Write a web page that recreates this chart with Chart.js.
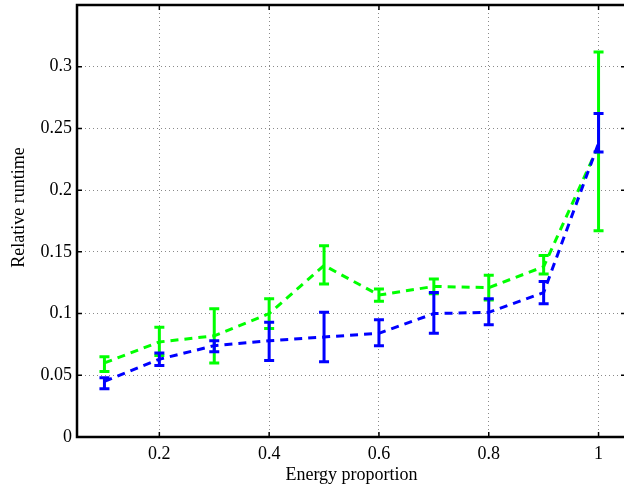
<!DOCTYPE html>
<html>
<head>
<meta charset="utf-8">
<script src="https://cdn.jsdelivr.net/npm/chart.js"></script>
<style>
  body { margin: 0; background: #fff; }
  #wrap { width: 624px; height: 488px; overflow: hidden; }
</style>
</head>
<body>
<div id="wrap"><canvas id="chart" width="640" height="488"></canvas></div>
<script>
// datos
var energy = [0.1, 0.2, 0.3, 0.4, 0.5, 0.6, 0.7, 0.8, 0.9, 1.0];

var blueMean = [0.045, 0.063, 0.074, 0.078, 0.081, 0.084, 0.100, 0.101, 0.117, 0.238];
var blueLow  = [0.039, 0.058, 0.069, 0.062, 0.061, 0.074, 0.084, 0.091, 0.108, 0.231];
var blueHigh = [0.048, 0.068, 0.078, 0.093, 0.101, 0.095, 0.117, 0.112, 0.126, 0.262];

var greenMean = [0.060, 0.077, 0.082, 0.100, 0.139, 0.115, 0.122, 0.121, 0.138, 0.236];
var greenLow  = [0.053, 0.066, 0.060, 0.088, 0.124, 0.110, 0.116, 0.111, 0.132, 0.167];
var greenHigh = [0.065, 0.089, 0.104, 0.112, 0.155, 0.120, 0.128, 0.131, 0.147, 0.312];

var xTicks = [0.2, 0.4, 0.6, 0.8, 1];
var yTicks = [0, 0.05, 0.1, 0.15, 0.2, 0.25, 0.3];

var font = { family: 'Liberation Serif', size: 18 };

function points(ys) {
    return energy.map(function(x, i) { return { x: x, y: ys[i] }; });
}

// barras de error, dibujadas despues de cada serie
var errorBars = {
    id: 'errorBars',
    afterDatasetDraw: function(chart, args) {
        var ds = chart.data.datasets[args.index];
        var ctx = chart.ctx, xs = chart.scales.x, ys = chart.scales.y;
        ctx.save();
        ctx.strokeStyle = ds.borderColor;
        ctx.lineWidth = 3;
        for (var i = 0; i < energy.length; i++) {
            var px = xs.getPixelForValue(energy[i]);
            var lo = ys.getPixelForValue(ds.errLow[i]);
            var hi = ys.getPixelForValue(ds.errHigh[i]);
            ctx.beginPath();
            ctx.moveTo(px, lo); ctx.lineTo(px, hi);
            ctx.moveTo(px - 5, lo); ctx.lineTo(px + 5, lo);
            ctx.moveTo(px - 5, hi); ctx.lineTo(px + 5, hi);
            ctx.stroke();
        }
        ctx.restore();
    }
};

// marco negro (sin lado derecho, queda fuera) y marcas hacia dentro
var frame = {
    id: 'frame',
    afterDraw: function(chart) {
        var ctx = chart.ctx, a = chart.chartArea;
        var xs = chart.scales.x, ys = chart.scales.y;
        ctx.save();
        ctx.strokeStyle = '#000';
        ctx.lineWidth = 1.5;
        xs.ticks.forEach(function(t) {
            var px = xs.getPixelForValue(t.value);
            ctx.beginPath();
            ctx.moveTo(px, a.bottom); ctx.lineTo(px, a.bottom - 5);
            ctx.moveTo(px, a.top); ctx.lineTo(px, a.top + 5);
            ctx.stroke();
        });
        ys.ticks.forEach(function(t) {
            var py = ys.getPixelForValue(t.value);
            ctx.beginPath();
            ctx.moveTo(a.left, py); ctx.lineTo(a.left + 5, py);
            ctx.moveTo(a.right, py); ctx.lineTo(a.right - 5, py);
            ctx.stroke();
        });
        ctx.lineWidth = 2.5;
        ctx.beginPath();
        ctx.moveTo(a.right + 10, a.top);
        ctx.lineTo(a.left, a.top);
        ctx.lineTo(a.left, a.bottom);
        ctx.lineTo(a.right + 10, a.bottom);
        ctx.stroke();
        ctx.restore();
    }
};

var ctx = document.getElementById('chart').getContext('2d');
var chart = new Chart(ctx, {
    type: 'line',
    data: {
        datasets: [{
            data: points(blueMean),
            errLow: blueLow,
            errHigh: blueHigh,
            borderColor: '#0000ff',
            borderWidth: 3,
            borderDash: [8, 6],
            pointRadius: 0,
            fill: false,
            tension: 0
        }, {
            data: points(greenMean),
            errLow: greenLow,
            errHigh: greenHigh,
            borderColor: '#00ff00',
            borderWidth: 3,
            borderDash: [8, 6],
            pointRadius: 0,
            fill: false,
            tension: 0
        }]
    },
    options: {
        responsive: false,
        animation: false,
        layout: { padding: { top: 5, right: 14, left: 0, bottom: 0 } },
        plugins: { legend: { display: false }, tooltip: { enabled: false } },
        scales: {
            x: {
                type: 'linear',
                min: 0.05,
                max: 1.05,
                afterBuildTicks: function(s) { s.ticks = xTicks.map(function(v) { return { value: v }; }); },
                afterFit: function(s) { s.height = 51; s.paddingLeft = 0; s.paddingRight = 0; },
                ticks: {
                    color: '#000', font: font, padding: 6, maxRotation: 0,
                    callback: function(v) { return String(v); }
                },
                grid: { color: '#8a8a8a', lineWidth: 1, drawTicks: false },
                border: { display: false, dash: [1, 3] },
                title: { display: true, text: 'Energy proportion', color: '#000', font: font, padding: { top: 0, bottom: 2 } }
            },
            y: {
                min: 0,
                max: 0.35,
                afterBuildTicks: function(s) { s.ticks = yTicks.map(function(v) { return { value: v }; }); },
                afterFit: function(s) { s.width = 77; s.paddingTop = 0; s.paddingBottom = 0; },
                ticks: {
                    color: '#000', font: font, padding: 5,
                    callback: function(v) { return String(v); }
                },
                grid: { color: '#8a8a8a', lineWidth: 1, drawTicks: false },
                border: { display: false, dash: [1, 3] },
                title: { display: true, text: '      Relative runtime', color: '#000', font: font, padding: { top: 8, bottom: 0 } }
            }
        }
    },
    plugins: [errorBars, frame]
});
</script>
</body>
</html>
